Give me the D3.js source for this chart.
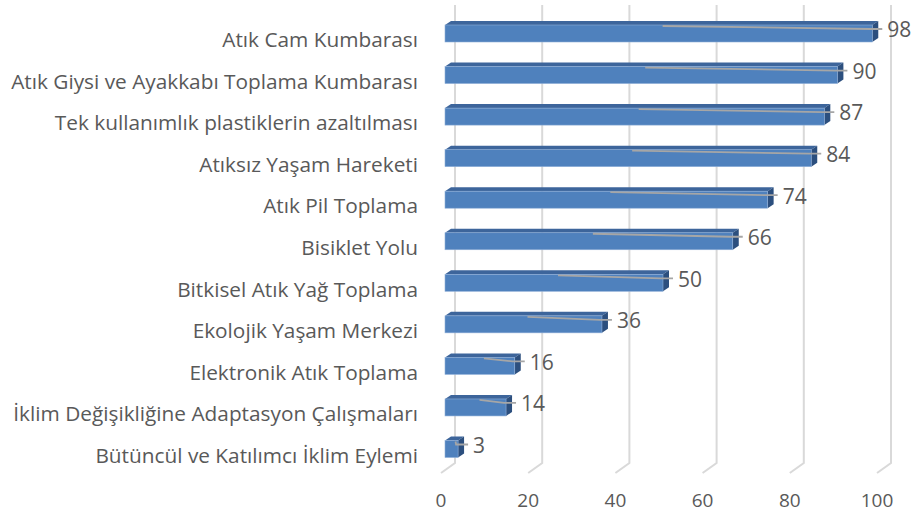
<!DOCTYPE html>
<html>
<head>
<meta charset="utf-8">
<script src="https://cdn.jsdelivr.net/npm/d3@7"></script>
<style>
  body { margin: 0; background: #fff; }
  svg text { font-family: "Open Sans", "Noto Sans", sans-serif; fill: #595959; }
</style>
</head>
<body>
<svg id="chart" width="915" height="515"></svg>
<script>
const categories = [
  'Atık Cam Kumbarası',
  'Atık Giysi ve Ayakkabı Toplama Kumbarası',
  'Tek kullanımlık plastiklerin azaltılması',
  'Atıksız Yaşam Hareketi',
  'Atık Pil Toplama',
  'Bisiklet Yolu',
  'Bitkisel Atık Yağ Toplama',
  'Ekolojik Yaşam Merkezi',
  'Elektronik Atık Toplama',
  'İklim Değişikliğine Adaptasyon Çalışmaları',
  'Bütüncül ve Katılımcı İklim Eylemi'
];
const values = [98, 90, 87, 84, 74, 66, 50, 36, 16, 14, 3];
const ticks = [0, 20, 40, 60, 80, 100];

// 3d offsets (back wall vs. front of the floor)
const depthX = 14, depthY = 10;
const barH = 17, topDx = 6, topDy = 4;

const svg = d3.select('#chart');

// back plane scale and bar (front face) scale
const xBack = d3.scaleLinear().domain([0, 100]).range([455, 891]);
const x = d3.scaleLinear().domain([0, 100]).range([445, 881]);
const y = d3.scalePoint().domain(categories).range([33.5, 449]);

const floorY = 463;

// gridlines: vertical on back wall, then slanted to the front
svg.append('g')
  .selectAll('polyline')
  .data(ticks)
  .join('polyline')
    .attr('points', d => [
      [xBack(d), 5], [xBack(d), floorY], [xBack(d) - depthX, floorY + depthY]
    ].join(' '))
    .attr('fill', 'none')
    .attr('stroke', '#d9d9d9')
    .attr('stroke-width', 2);

// tick labels
svg.append('g')
  .selectAll('text')
  .data(ticks)
  .join('text')
    .attr('x', d => xBack(d) - depthX)
    .attr('y', 507)
    .attr('text-anchor', 'middle')
    .attr('font-size', 19)
    .text(d => d);

const data = categories.map((c, i) => ({cat: c, value: values[i]}));

const bar = svg.append('g')
  .selectAll('g')
  .data(data)
  .join('g');

// top face
bar.append('polygon')
  .attr('points', d => {
    const t = y(d.cat) - barH / 2, x0 = x(0), x1 = x(d.value);
    return [[x0, t], [x0 + topDx, t - topDy], [x1 + topDx, t - topDy], [x1, t]].join(' ');
  })
  .attr('fill', '#3d659b');

// side face
bar.append('polygon')
  .attr('points', d => {
    const t = y(d.cat) - barH / 2, x1 = x(d.value);
    return [[x1, t], [x1 + topDx, t - topDy], [x1 + topDx, t + barH - topDy], [x1, t + barH]].join(' ');
  })
  .attr('fill', '#2c4f7e');

// front face
bar.append('rect')
  .attr('x', x(0))
  .attr('y', d => y(d.cat) - barH / 2)
  .attr('width', d => x(d.value) - x(0))
  .attr('height', barH)
  .attr('fill', '#4f81bd')
  .attr('stroke', '#8eaed8')
  .attr('stroke-width', 0.6);

// leader lines
bar.append('polyline')
  .attr('points', d => {
    const t = y(d.cat) - barH / 2;
    const xs = x(0) + (x(d.value) - x(0)) / 2 + 4;
    return [[xs, t + 1], [x(d.value) - 2, t + 4], [x(d.value) + 10, t + 4]].join(' ');
  })
  .attr('fill', 'none')
  .attr('stroke', '#a6a6a6')
  .attr('stroke-width', 1.8);

// value labels
bar.append('text')
  .attr('x', d => x(d.value) + 15)
  .attr('y', d => y(d.cat) - barH / 2 + 5)
  .attr('dy', '0.35em')
  .attr('font-size', 21)
  .text(d => d.value);

// category labels
bar.append('text')
  .attr('x', 418)
  .attr('y', d => y(d.cat) + 6.5)
  .attr('dy', '0.35em')
  .attr('text-anchor', 'end')
  .attr('font-size', 20.8)
  .text(d => d.cat);
</script>
</body>
</html>
